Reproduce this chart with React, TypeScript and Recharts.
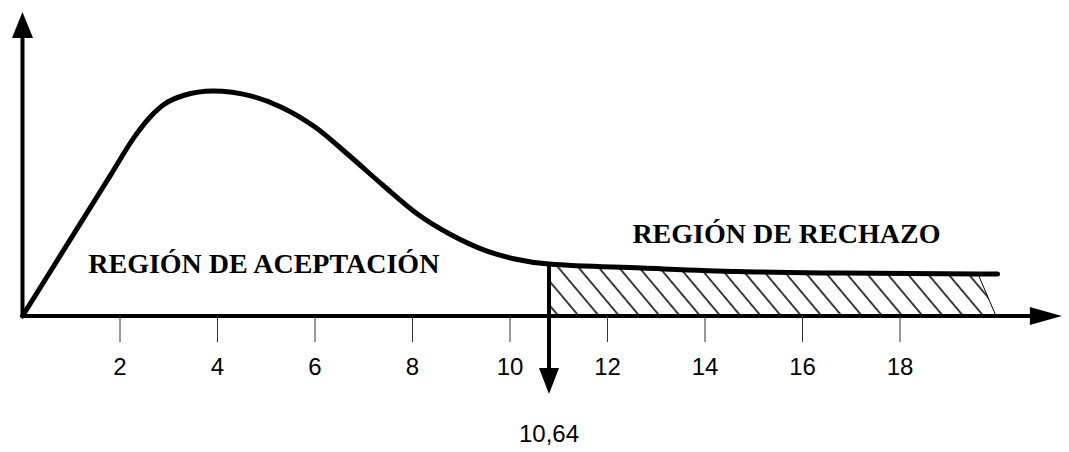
import React from "react";
import {
  ComposedChart,
  Line,
  Area,
  XAxis,
  YAxis,
  ReferenceLine,
  ReferenceDot,
} from "recharts";

// curve points (x on the axis scale, y in arbitrary height units)
const curveX = [0, 0.6, 1.2, 1.8, 2.3, 2.6, 2.9, 3.3, 3.9, 4.7, 5.3, 6, 6.7, 7.4, 8.1, 8.8, 9.5, 10.1, 10.8, 12.7, 14.7, 16.8, 19.6, 20];
const curveY = [0, 15.6, 31.2, 46.8, 59.8, 66, 70.5, 73.5, 75, 73.3, 69.7, 63, 53.5, 43.5, 34, 27, 21.8, 19, 17.3, 16, 14.8, 14.3, 14, 14];
const xTicks = [2, 4, 6, 8, 10, 12, 14, 16, 18];

const criticalPos = 10.8; // where the arrow sits in the drawing
const criticalLabel = "10,64";
const hatchEnd = 19.97;

const acceptLabel = "REGIÓN DE ACEPTACIÓN";
const rejectLabel = "REGIÓN DE RECHAZO";

const curve = curveX.map((x, i) => ({ x, y: curveY[i] }));
const critY = curveY[curveX.indexOf(criticalPos)];
const hatch = [
  ...curve.filter((d) => d.x >= criticalPos && d.x <= 19.6),
  { x: hatchEnd, y: 0 },
];

const Arrow = (p: any) => {
  const { x1, y1, x2, y2, head, half, sw } = p;
  const dx = x2 - x1;
  const dy = y2 - y1;
  const len = Math.sqrt(dx * dx + dy * dy) || 1;
  const ux = dx / len;
  const uy = dy / len;
  const bx = x2 - ux * head;
  const by = y2 - uy * head;
  const pts = [
    [x2, y2],
    [bx - uy * half, by + ux * half],
    [bx + uy * half, by - ux * half],
  ]
    .map((q) => q.join(","))
    .join(" ");
  return (
    <g>
      <line x1={x1} y1={y1} x2={bx + ux} y2={by + uy} stroke="#000" strokeWidth={sw} />
      <polygon points={pts} fill="#000" />
      {p.text ? (
        <text
          x={x2}
          y={y2 + 48}
          textAnchor="middle"
          fontSize={24}
          fontFamily="'Liberation Sans', Arial, sans-serif"
          fill="#000"
        >
          {p.text}
        </text>
      ) : null}
    </g>
  );
};

const BoldText = (text: string) => (p: any) => (
  <text
    x={p.cx}
    y={p.cy}
    textAnchor="middle"
    fontSize={28}
    fontWeight="bold"
    fontFamily="'Liberation Serif', 'Times New Roman', serif"
    fill="#000"
  >
    {text}
  </text>
);

export default function App() {
  return (
    <div style={{ position: "absolute", left: 0, top: 0, background: "#fff" }}>
      <ComposedChart
        width={1069}
        height={452}
        data={curve}
        margin={{ top: 16, left: 22.5, right: 71.5, bottom: 56 }}
      >
        <defs>
          <pattern
            id="hatch"
            patternUnits="userSpaceOnUse"
            width={15.5}
            height={15.5}
            patternTransform="rotate(-40)"
          >
            <line x1={7.75} y1={0} x2={7.75} y2={15.5} stroke="#000" strokeWidth={1.5} />
          </pattern>
        </defs>
        <XAxis
          dataKey="x"
          type="number"
          domain={[0, 20]}
          ticks={xTicks}
          axisLine={false}
          tickLine={{ stroke: "#333", strokeWidth: 1 }}
          tickSize={26}
          tickMargin={16}
          height={80}
          tick={{ fill: "#000", fontSize: 24, fontFamily: "'Liberation Sans', Arial, sans-serif" }}
        />
        <YAxis hide type="number" domain={[0, 100]} />
        <Area
          data={hatch}
          dataKey="y"
          type="linear"
          fill="url(#hatch)"
          fillOpacity={1}
          stroke="#000"
          strokeWidth={1}
          isAnimationActive={false}
        />
        <ReferenceLine
          segment={[{ x: 0, y: 0 }, { x: 21.32, y: 0 }]}
          ifOverflow="visible"
          shape={(p: any) => <Arrow {...p} head={32} half={9} sw={4} />}
        />
        <ReferenceLine
          segment={[{ x: 0, y: 0 }, { x: 0, y: 101.3 }]}
          ifOverflow="visible"
          shape={(p: any) => <Arrow {...p} head={26} half={10.5} sw={4} />}
        />
        <Line
          dataKey="y"
          type="monotone"
          stroke="#000"
          strokeWidth={5}
          strokeLinecap="round"
          dot={false}
          activeDot={false}
          isAnimationActive={false}
        />
        <ReferenceLine
          segment={[{ x: criticalPos, y: critY }, { x: criticalPos, y: -26 }]}
          ifOverflow="visible"
          shape={(p: any) => <Arrow {...p} head={26} half={10} sw={4} text={criticalLabel} />}
        />
        <ReferenceDot x={4.95} y={14.3} r={0} ifOverflow="visible" shape={BoldText(acceptLabel)} />
        <ReferenceDot x={15.67} y={24.3} r={0} ifOverflow="visible" shape={BoldText(rejectLabel)} />
      </ComposedChart>
    </div>
  );
}
